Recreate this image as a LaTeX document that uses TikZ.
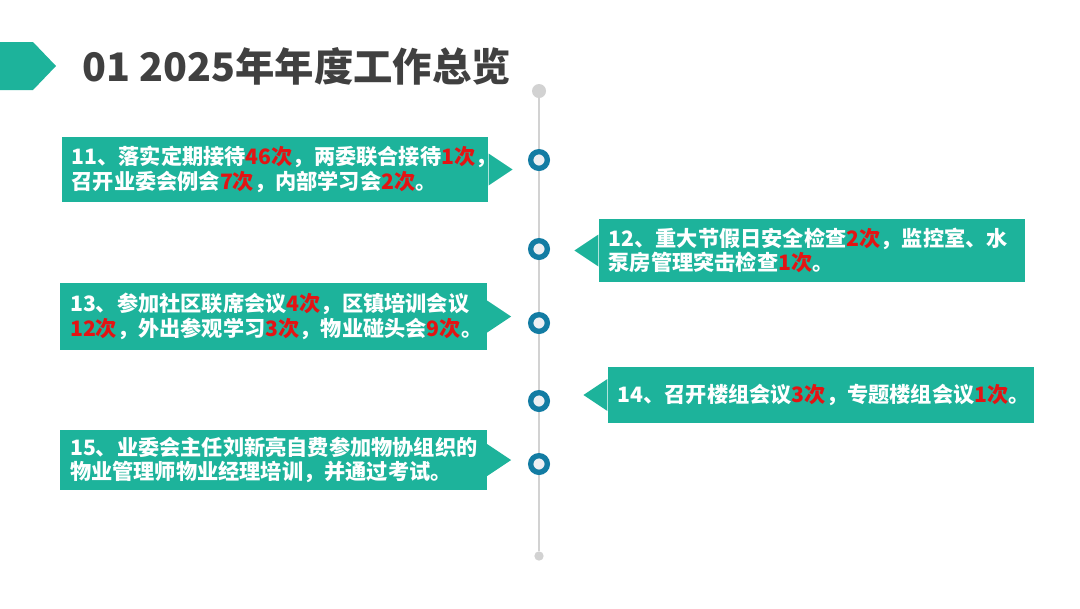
\documentclass[tikz,border=0pt]{standalone}
\usepackage{fontspec}
\usepackage{xcolor}
\usepackage{tikz}
\newfontfamily\cjk{Noto Sans CJK SC}

\definecolor{cardteal}{HTML}{1DB39B}
\definecolor{ringblue}{HTML}{137CA3}
\definecolor{ringfill}{HTML}{EDEFF3}
\definecolor{lineGrey}{HTML}{D2D2D2}
\definecolor{titleGrey}{HTML}{404040}
\definecolor{numRed}{HTML}{E31414}
\newcommand{\redn}[1]{\textcolor{numRed}{#1}}

\begin{document}
\begin{tikzpicture}[x=0.75pt, y=-0.75pt,
    card/.style={fill=cardteal, text=white, align=left, inner xsep=7.5pt, inner ysep=0pt,
                 text width=305pt, font=\cjk\bfseries\fontsize{15.9}{18.5}\selectfont},
    ring/.style={circle, draw=ringblue, line width=4pt, fill=ringfill, minimum size=12.5pt, inner sep=0pt},
    enddot/.style={circle, fill=lineGrey, inner sep=0pt}]
    \useasboundingbox (0,0) rectangle (1080,608);

    % Titol
    \fill[cardteal] (0,42) -- (33,42) -- (56,66) -- (33,90) -- (0,90) -- cycle;
    \node[anchor=west, text=titleGrey, font=\cjk\bfseries\fontsize{29.5}{33}\selectfont] (title) at (78,66) {01 2025年年度工作总览};

    % Linia de temps
    \node[enddot, minimum size=10.5pt] (top) at (539,91) {};
    \node[enddot, minimum size=7pt] (bot) at (539,556) {};
    \draw[lineGrey, line width=1.5pt] (top) -- (bot);

    % Targetes
    \node[card, minimum height=48.75pt] (c11) at (275,169.5)
        {11、落实定期接待\redn{46次}，两委联合接待\redn{1次}，\\召开业委会例会\redn{7次}，内部学习会\redn{2次}。};
    \node[card, minimum height=47.25pt] (c12) at (812,250.5)
        {12、重大节假日安全检查\redn{2次}，监控室、水\\泵房管理突击检查\redn{1次}。};
    \node[card, minimum height=50.25pt] (c13) at (273.5,316.5)
        {13、参加社区联席会议\redn{4次}，区镇培训会议\\\redn{12次}，外出参观学习\redn{3次}，物业碰头会\redn{9次}。};
    \node[card, minimum height=42pt] (c14) at (821,395)
        {14、召开楼组会议\redn{3次}，专题楼组会议\redn{1次}。};
    \node[card, minimum height=45pt] (c15) at (273.5,460)
        {15、业委会主任刘新亮自费参加物协组织的\\物业管理师物业经理培训，并通过考试。};

    % Punxes
    \foreach \c in {c11,c13,c15}
        \fill[cardteal] ([yshift=12pt]\c.east) -- ([xshift=18pt]\c.east) -- ([yshift=-12pt]\c.east) -- cycle;
    \foreach \c in {c12,c14}
        \fill[cardteal] ([yshift=12pt]\c.west) -- ([xshift=-18pt]\c.west) -- ([yshift=-12pt]\c.west) -- cycle;

    % Punts
    \node[ring] (p11) at (539,160) {};
    \node[ring] (p12) at (539,249) {};
    \node[ring] (p13) at (539,323) {};
    \node[ring] (p14) at (539,401) {};
    \node[ring] (p15) at (539,464) {};
\end{tikzpicture}
\end{document}
